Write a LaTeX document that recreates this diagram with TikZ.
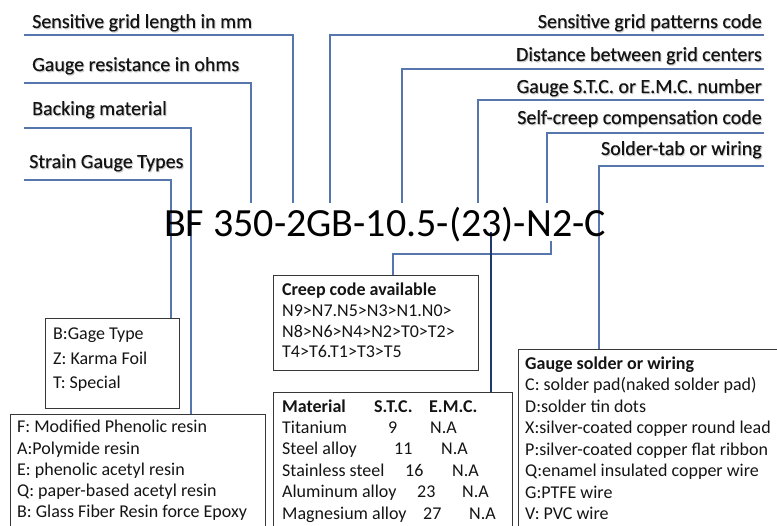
\documentclass[tikz,border=0pt]{standalone}
\usepackage{fontspec}
\setmainfont{Carlito}
\definecolor{linkblue}{RGB}{88,118,174}
\definecolor{linknavy}{RGB}{31,56,110}
\definecolor{boxgray}{RGB}{55,55,55}
\definecolor{labelink}{RGB}{20,20,20}
\definecolor{shade}{RGB}{205,205,205}
% one table row: first column, then two more columns at fixed offsets
\newcommand{\matrow}[5]{\rlap{#1}\hspace*{#4}\rlap{#2}\hspace*{\dimexpr #5-#4\relax}#3}
\begin{document}
\begin{tikzpicture}[x=1pt,y=-1pt,
  conn/.style={draw=linkblue,line width=1.05pt},
  lab/.style={font=\fontsize{20}{24}\selectfont\addfontfeature{FakeBold=0.35},inner sep=0pt,text=labelink},
  labl/.style={lab,anchor=base west},
  labr/.style={lab,anchor=base east},
  shd/.style={text=shade},
  box/.style={draw=boxgray,line width=1.2pt,inner sep=0pt,anchor=north west},
  txt/.style={font=\fontsize{18}{21}\selectfont,inner sep=0pt,anchor=base west,text=labelink},
]
\useasboundingbox (0,0) rectangle (777,526);
\clip (0,0) rectangle (777,526);

% ---- soft shadow under the field labels
\begin{scope}[shift={(1,1.2)}]
\node[labl,shd] (lenH) at (32,28)  {Sensitive grid length in mm};
\node[labl,shd] (resH) at (32,71)  {Gauge resistance in ohms};
\node[labl,shd] (bakH) at (32,115) {Backing material};
\node[labl,shd] (typH) at (29,168) {Strain Gauge Types};
\node[labr,shd] (patH) at (762,28)  {Sensitive grid patterns code};
\node[labr,shd] (disH) at (762,61)  {Distance between grid centers};
\node[labr,shd] (stcH) at (762,93)  {Gauge S.T.C. or  E.M.C. number};
\node[labr,shd] (crpH) at (762,124) {Self-creep compensation code};
\node[labr,shd] (solH) at (762,155) {Solder-tab or wiring};
\end{scope}

% ---- field labels, left side
\node[labl] (lenL) at (32,28)  {Sensitive grid length in mm};
\node[labl] (resL) at (32,71)  {Gauge resistance in ohms};
\node[labl] (bakL) at (32,115) {Backing material};
\node[labl] (typL) at (29,168) {Strain Gauge Types};

% ---- field labels, right side
\node[labr] (patL) at (762,28)  {Sensitive grid patterns code};
\node[labr] (disL) at (762,61)  {Distance between grid centers};
\node[labr] (stcL) at (762,93)  {Gauge S.T.C. or  E.M.C. number};
\node[labr] (crpL) at (762,124) {Self-creep compensation code};
\node[labr] (solL) at (762,155) {Solder-tab or wiring};

% ---- boxes
\node[box,minimum width=134pt,minimum height=90pt]  (gage)  at (45,318)  {};
\node[box,minimum width=255pt,minimum height=130pt] (back)  at (10,414)  {};
\node[box,minimum width=205pt,minimum height=95pt]  (creep) at (273,275) {};
\node[box,minimum width=239pt,minimum height=150pt] (mat)   at (273,392) {};
\node[box,minimum width=270pt,minimum height=190pt] (sold)  at (518,349) {};

% ---- line ends and corners
\coordinate (lenS) at (24,35);   \coordinate (lenK) at (293,35);
\coordinate (resS) at (24,83);   \coordinate (resK) at (251,83);
\coordinate (bakS) at (24,128);  \coordinate (bakK) at (191,128);
\coordinate (typS) at (24,180);  \coordinate (typK) at (171,180);
\coordinate (patS) at (764,35);  \coordinate (patK) at (330,35);
\coordinate (disS) at (764,69);  \coordinate (disK) at (402,69);
\coordinate (stcS) at (764,100); \coordinate (stcK) at (478,100);
\coordinate (crpS) at (764,133); \coordinate (crpK) at (547,133);
\coordinate (solS) at (764,166); \coordinate (solK) at (599,166);
\coordinate (top) at (0,203);
\coordinate (nS) at (551,241);  \coordinate (nK) at (551,254);
\coordinate (cK) at (393,254);
\coordinate (mS) at (491,232);

% ---- leader lines
\draw[conn] (lenS) -- (lenK) -- (lenK |- top);
\draw[conn] (resS) -- (resK) -- (resK |- top);
\draw[conn] (bakS) -- (bakK) -- (bakK |- back.north);
\draw[conn] (typS) -- (typK) -- (typK |- gage.north);
\draw[conn] (patS) -- (patK) -- (patK |- top);
\draw[conn] (disS) -- (disK) -- (disK |- top);
\draw[conn] (stcS) -- (stcK) -- (stcK |- top);
\draw[conn] (crpS) -- (crpK) -- (crpK |- top);
\draw[conn] (solS) -- (solK) -- (solK |- sold.north);
\draw[conn] (nS) -- (nK) -- (cK) -- (cK |- creep.north);
\draw[draw=linknavy,line width=1.1pt] (mS) -- (mS |- mat.north);

% ---- the part number
\node[inner sep=0pt,anchor=base west,font=\fontsize{40}{48}\selectfont] (code) at (164,237)
  {BF 350-2GB-10.5-(23)-N2-C};

% ---- gauge type box
\node[txt] (g1) at (53,340) {B:Gage Type};
\node[txt] (g2) at (53,365) {Z: Karma Foil};
\node[txt] (g3) at (53,389) {T: Special};

% ---- backing material box
\node[txt] (b1) at (17,433) {F: Modified  Phenolic resin};
\node[txt] (b2) at (17,455) {A:Polymide resin};
\node[txt] (b3) at (17,476) {E: phenolic acetyl resin};
\node[txt] (b4) at (17,497) {Q: paper-based  acetyl resin};
\node[txt] (b5) at (17,518) {B: Glass Fiber Resin force Epoxy};

% ---- creep code box
\node[txt,font=\fontsize{18}{21}\selectfont\bfseries] (c1) at (282,296) {Creep code available};
\node[txt] (c2) at (282,317) {N9>N7.N5>N3>N1.N0>};
\node[txt] (c3) at (282,338) {N8>N6>N4>N2>T0>T2>};
\node[txt] (c4) at (282,358) {T4>T6.T1>T3>T5};

% ---- material table
\node[txt,font=\fontsize{18}{21}\selectfont\bfseries] (m0) at (282,413) {\matrow{Material}{S.T.C.}{E.M.C.}{92pt}{147pt}};
\node[txt] (m1) at (282,434) {\matrow{Titanium}{9}{N.A}{106pt}{148pt}};
\node[txt] (m2) at (282,455) {\matrow{Steel alloy}{11}{N.A}{112pt}{159pt}};
\node[txt] (m3) at (282,477) {\matrow{Stainless steel}{16}{N.A}{123pt}{170pt}};
\node[txt] (m4) at (282,498) {\matrow{Aluminum alloy}{23}{N.A}{135pt}{180pt}};
\node[txt] (m5) at (282,519) {\matrow{Magnesium alloy}{27}{N.A}{141pt}{187pt}};

% ---- solder / wiring box
\node[txt,font=\fontsize{18}{21}\selectfont\bfseries] (s0) at (525,370) {Gauge solder or wiring};
\node[txt] (s1) at (525,391) {C: solder pad(naked solder pad)};
\node[txt] (s2) at (525,413) {D:solder tin dots};
\node[txt] (s3) at (525,434) {X:silver-coated  copper round lead};
\node[txt] (s4) at (525,456) {P:silver-coated  copper flat ribbon};
\node[txt] (s5) at (525,477) {Q:enamel insulated copper wire};
\node[txt] (s6) at (525,499) {G:PTFE wire};
\node[txt] (s7) at (525,520) {V: PVC wire};
\end{tikzpicture}
\end{document}
